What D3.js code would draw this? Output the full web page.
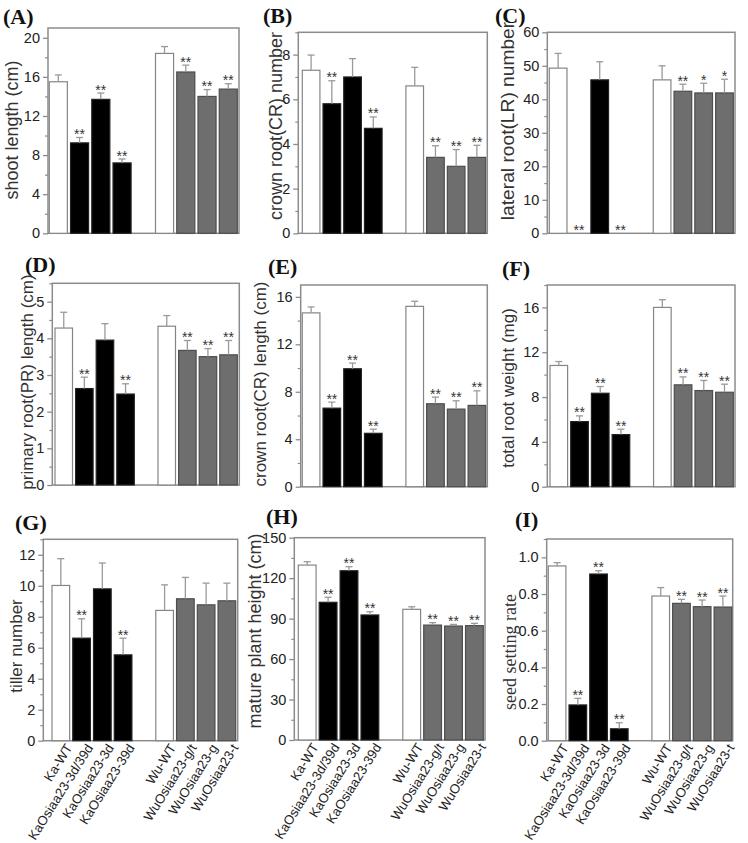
<!DOCTYPE html>
<html><head><meta charset="utf-8">
<script src="https://cdn.jsdelivr.net/npm/d3@7"></script>
<style>
html,body{margin:0;padding:0;background:#fff;}
svg{display:block;}
</style></head>
<body>
<svg id="chart" width="748" height="843"></svg>
<script>
// ---------- DATA ----------
const categories = ["Ka-WT","KaOsiaa23-3d/39d","KaOsiaa23-3d","KaOsiaa23-39d","Wu-WT","WuOsiaa23-g/t","WuOsiaa23-g","WuOsiaa23-t"];
const groupOf = ["wt","mut","mut","mut","wt","wmut","wmut","wmut"];

const shootLength    = [15.5, 9.25, 13.7, 7.2, 18.4, 16.5, 14.0, 14.75];
const shootLengthErr = [0.7, 0.55, 0.65, 0.4, 0.7, 0.7, 0.7, 0.55];
const shootLengthSig = ["", "**", "**", "**", "", "**", "**", "**"];
const shootLengthTicks = [0,4,8,12,16,20];

const crNumber    = [7.3, 5.8, 7.0, 4.7, 6.6, 3.4, 3.0, 3.4];
const crNumberErr = [0.68, 1.03, 0.82, 0.51, 0.83, 0.52, 0.75, 0.54];
const crNumberSig = ["", "**", "", "**", "", "**", "**", "**"];
const crNumberTicks = [0,2,4,6,8];

const lrNumber    = [49.3, 0, 45.8, 0, 45.8, 42.4, 41.9, 41.9];
const lrNumberErr = [4.4, 0, 5.4, 0, 4.2, 2.1, 2.9, 4.1];
const lrNumberSig = ["", "**", "", "**", "", "**", "*", "*"];
const lrNumberTicks = [0,10,20,30,40,50,60];

const prLength    = [4.28, 2.63, 3.95, 2.48, 4.33, 3.67, 3.5, 3.55];
const prLengthErr = [0.43, 0.31, 0.45, 0.28, 0.29, 0.27, 0.22, 0.39];
const prLengthSig = ["", "**", "", "**", "", "**", "**", "**"];
const prLengthTicks = [0,1,2,3,4,5];

const crLength    = [14.65, 6.62, 9.94, 4.5, 15.2, 6.99, 6.54, 6.85];
const crLengthErr = [0.5, 0.51, 0.48, 0.35, 0.43, 0.56, 0.7, 1.23];
const crLengthSig = ["", "**", "**", "**", "", "**", "**", "**"];
const crLengthTicks = [0,4,8,12,16];

const rootWeight    = [10.82, 5.81, 8.34, 4.65, 16.0, 9.09, 8.58, 8.43];
const rootWeightErr = [0.35, 0.51, 0.6, 0.48, 0.69, 0.71, 0.9, 0.72];
const rootWeightSig = ["", "**", "**", "**", "", "**", "**", "**"];
const rootWeightTicks = [0,4,8,12,16];

const tillerNumber    = [10.02, 6.62, 9.8, 5.54, 8.41, 9.16, 8.77, 9.03];
const tillerNumberErr = [1.73, 1.25, 1.67, 1.08, 1.65, 1.38, 1.4, 1.14];
const tillerNumberSig = ["", "**", "", "**", "", "", "", ""];
const tillerNumberTicks = [0,2,4,6,8,10,12];

const plantHeight    = [129.7, 102.1, 125.5, 92.7, 96.9, 85.2, 84.5, 84.8];
const plantHeightErr = [2.5, 3.7, 3.0, 2.4, 1.9, 1.8, 1.2, 1.7];
const plantHeightSig = ["", "**", "**", "**", "", "**", "**", "**"];
const plantHeightTicks = [0,30,60,90,120,150];

const seedSetting    = [0.953, 0.195, 0.909, 0.065, 0.789, 0.749, 0.731, 0.729];
const seedSettingErr = [0.018, 0.036, 0.018, 0.033, 0.046, 0.022, 0.036, 0.06];
const seedSettingSig = ["", "**", "**", "**", "", "**", "**", "**"];
const seedSettingTicks = [0,0.2,0.4,0.6,0.8,1.0];

// ---------- LAYOUT ----------
const panels = [
 {tag:"(A)", ylab:"shoot length (cm)", v:shootLength, e:shootLengthErr, s:shootLengthSig, ticks:shootLengthTicks, ymax:21,
  fx:[48,239], fy:[28,233.3], bx:[49.3,237.3], tagPos:[3,24], ylx:12, ylc:130, yls:18},
 {tag:"(B)", ylab:"crown root(CR) number", v:crNumber, e:crNumberErr, s:crNumberSig, ticks:crNumberTicks, ymax:9,
  fx:[298.3,487.3], fy:[32.3,233.3], bx:[302.3,485.7], tagPos:[263,23], ylx:276, ylc:126, yls:18},
 {tag:"(C)", ylab:"lateral root(LR) number", v:lrNumber, e:lrNumberErr, s:lrNumberSig, ticks:lrNumberTicks, ymax:60,
  fx:[547.3,735], fy:[32.3,233.3], bx:[549.3,733.3], tagPos:[495,23], ylx:507, ylc:121, yls:19.2},
 {tag:"(D)", ylab:"primary root(PR) length (cm)", v:prLength, e:prLengthErr, s:prLengthSig, ticks:prLengthTicks, ymax:5.5,
  fx:[52.3,239.3], fy:[283.3,485], bx:[55,237.3], tagPos:[25,272], ylx:27, ylc:382, yls:17},
 {tag:"(E)", ylab:"crown root(CR) length (cm)", v:crLength, e:crLengthErr, s:crLengthSig, ticks:crLengthTicks, ymax:17,
  fx:[300.7,487.3], fy:[285,486.7], bx:[302.3,485.7], tagPos:[268,274], ylx:260, ylc:384, yls:17},
 {tag:"(F)", ylab:"total root weight (mg)", v:rootWeight, e:rootWeightErr, s:rootWeightSig, ticks:rootWeightTicks, ymax:18,
  fx:[547.3,735], fy:[285,486.7], bx:[550,733.3], tagPos:[502,276], ylx:508, ylc:388, yls:17},
 {tag:"(G)", ylab:"tiller number", v:tillerNumber, e:tillerNumberErr, s:tillerNumberSig, ticks:tillerNumberTicks, ymax:13,
  fx:[43.3,237.7], fy:[539.3,740.7], bx:[52,235.7], tagPos:[15,530], ylx:16, ylc:646, yls:17, xlabels:true},
 {tag:"(H)", ylab:"mature plant height (cm)", v:plantHeight, e:plantHeightErr, s:plantHeightSig, ticks:plantHeightTicks, ymax:150,
  fx:[294.3,485], fy:[537.7,740], bx:[298.3,483.3], tagPos:[266,524], ylx:255, ylc:631, yls:18, xlabels:true},
 {tag:"(I)", ylab:"seed setting rate", v:seedSetting, e:seedSettingErr, s:seedSettingSig, ticks:seedSettingTicks, ymax:1.1,
  fx:[546.7,732.7], fy:[539,740.7], bx:[548.3,731.7], tagPos:[515,527], ylx:510, ylc:652, yls:18, serifY:true, fmt:".1f", xlabels:true}
];

const fills = {wt:"#ffffff", mut:"#000000", wmut:"#6e6e6e"};
const strokes = {wt:"#858585", mut:"#222222", wmut:"#4d4d4d"};
const frameColor = "#8c8c8c";
const SANS = "'Liberation Sans', Arial, Helvetica, sans-serif";
const SERIF = "'Liberation Serif', 'Times New Roman', Times, serif";

const slots = [...categories.slice(0,4), "__gap", ...categories.slice(4)];
const svg = d3.select("#chart");

panels.forEach(p => {
  const g = svg.append("g");
  const x = d3.scaleBand().domain(slots).range(p.bx).paddingInner(0.15).paddingOuter(0);
  const y = d3.scaleLinear().domain([0, p.ymax]).range([p.fy[1], p.fy[0]]);
  const fmt = p.fmt ? d3.format(p.fmt) : d3.format("d");

  // minor ticks
  const step = p.ticks[1] - p.ticks[0];
  const minor = p.ticks.map(t => t + step/2).filter(m => m <= p.ymax + 1e-9);
  const minorAxis = d3.axisLeft(y).tickValues(minor).tickSize(3).tickFormat("");
  const ma = g.append("g").attr("transform", `translate(${p.fx[0]},0)`).call(minorAxis);
  ma.select(".domain").remove();
  ma.selectAll("line").attr("stroke", frameColor).attr("stroke-width", 1.2);

  const axis = d3.axisLeft(y).tickValues(p.ticks).tickSize(5).tickPadding(3).tickFormat(fmt);
  const ax = g.append("g").attr("transform", `translate(${p.fx[0]},0)`).call(axis);
  ax.select(".domain").remove();
  ax.selectAll("line").attr("stroke", frameColor).attr("stroke-width", 1.3);
  ax.selectAll("text").attr("font-family", SANS).attr("font-size", 14.5).attr("fill", "#222");

  // frame
  g.append("rect")
    .attr("x", p.fx[0]).attr("y", p.fy[0])
    .attr("width", p.fx[1]-p.fx[0]).attr("height", p.fy[1]-p.fy[0])
    .attr("fill", "none").attr("stroke", frameColor).attr("stroke-width", 1.5);

  const data = categories.map((c,i) => ({c, v:p.v[i], e:p.e[i], s:p.s[i], grp:groupOf[i]}));

  // bars
  g.selectAll("rect.bar").data(data.filter(d => d.v > 0)).join("rect")
    .attr("class","bar")
    .attr("x", d => x(d.c)).attr("width", x.bandwidth())
    .attr("y", d => y(d.v)).attr("height", d => y(0) - y(d.v))
    .attr("fill", d => fills[d.grp]).attr("stroke", d => strokes[d.grp]).attr("stroke-width", 1.2);

  // error bars
  const eb = data.filter(d => d.e > 0);
  g.selectAll("line.err").data(eb).join("line")
    .attr("x1", d => x(d.c) + x.bandwidth()/2).attr("x2", d => x(d.c) + x.bandwidth()/2)
    .attr("y1", d => y(d.v)).attr("y2", d => y(d.v + d.e))
    .attr("stroke", "#9a9a9a").attr("stroke-width", 1.3);
  g.selectAll("line.cap").data(eb).join("line")
    .attr("x1", d => x(d.c) + x.bandwidth()/2 - 3.5).attr("x2", d => x(d.c) + x.bandwidth()/2 + 3.5)
    .attr("y1", d => y(d.v + d.e)).attr("y2", d => y(d.v + d.e))
    .attr("stroke", "#9a9a9a").attr("stroke-width", 1.3);

  // significance
  g.selectAll("text.sig").data(data.filter(d => d.s)).join("text")
    .attr("x", d => x(d.c) + x.bandwidth()/2)
    .attr("y", d => y(d.v + d.e) + 1.5)
    .attr("text-anchor","middle").attr("font-family", SANS).attr("font-size", 14)
    .attr("fill","#333").text(d => d.s);

  // y label
  g.append("text")
    .attr("transform", `translate(${p.ylx},${p.ylc}) rotate(-90)`)
    .attr("dy", "0.35em")
    .attr("text-anchor","middle")
    .attr("font-family", p.serifY ? SERIF : SANS)
    .attr("font-size", p.yls).attr("fill","#333")
    .text(p.ylab);

  // panel tag
  g.append("text").attr("x", p.tagPos[0]).attr("y", p.tagPos[1])
    .attr("font-family", SERIF).attr("font-weight","bold").attr("font-size", 22)
    .attr("fill","#111").text(p.tag);

  // x labels
  if (p.xlabels) {
    g.selectAll("text.xl").data(categories).join("text")
      .attr("transform", c => `translate(${x(c) + x.bandwidth()/2 + 4},${p.fy[1] + 2}) rotate(-58)`)
      .attr("dy","0.71em")
      .attr("text-anchor","end")
      .attr("font-family", SANS).attr("font-size", 13.2).attr("fill","#222")
      .text(c => c);
  }
});
</script>
</body></html>
